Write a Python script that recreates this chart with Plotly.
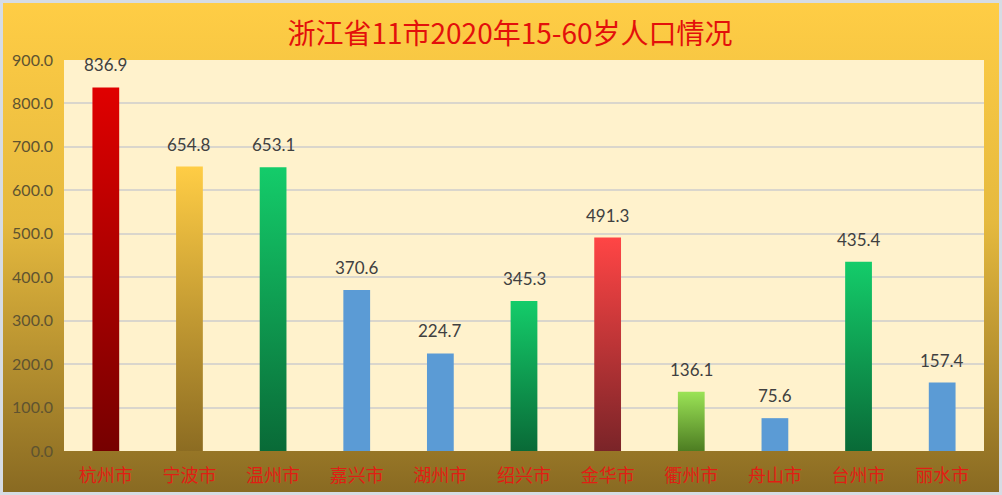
"""浙江省11市2020年15-60岁人口情况 — gradient column chart."""

import base64

import plotly.graph_objects as go

cities = ["杭州市", "宁波市", "温州市", "嘉兴市", "湖州市", "绍兴市",
          "金华市", "衢州市", "舟山市", "台州市", "丽水市"]
population = [836.9, 654.8, 653.1, 370.6, 224.7, 345.3,
              491.3, 136.1, 75.6, 435.4, 157.4]
y_ticks = [0, 100, 200, 300, 400, 500, 600, 700, 800, 900]

# bar gradient ends (top colour, bottom colour)
BLUE = "#5B9BD5"
top_colors = ["#E00000", "#FFCD45", "#14CC6A", BLUE, BLUE, "#14CC6A",
              "#FF4545", "#9BE356", BLUE, "#14CC6A", BLUE]
bottom_colors = ["#760000", "#8C6C22", "#096A37", BLUE, BLUE, "#096A37",
                 "#7A2428", "#4D7D22", BLUE, "#096A37", BLUE]

W, H = 1002, 495
M = dict(l=64, r=18, t=60, b=44)
HALF = 0.16  # half bar width, in category units

# page background: yellow -> olive-brown gradient with a thin light frame
svg = f"""<svg xmlns="http://www.w3.org/2000/svg" width="{W}" height="{H}">
<defs><linearGradient id="g" x1="0" y1="0" x2="0" y2="1">
<stop offset="0" stop-color="#FFCD45"/>
<stop offset="0.45" stop-color="#E5B93E"/>
<stop offset="1" stop-color="#896A22"/>
</linearGradient></defs>
<rect width="{W}" height="{H}" fill="#D6DCE4"/>
<rect x="3" y="3" width="{W - 6}" height="{H - 6}" fill="url(#g)"/>
</svg>"""
bg_src = "data:image/svg+xml;base64," + base64.b64encode(svg.encode()).decode()

pw = W - M["l"] - M["r"]
ph = H - M["t"] - M["b"]

fig = go.Figure()
for i, (name, v) in enumerate(zip(cities, population)):
    fig.add_trace(go.Scatter(
        x=[i - HALF, i - HALF, i + HALF, i + HALF, i - HALF],
        y=[0, v, v, 0, 0],
        fill="toself", mode="lines", line=dict(width=0),
        fillgradient=dict(type="vertical",
                          colorscale=[[0, bottom_colors[i]], [1, top_colors[i]]]),
        name=name, hoverinfo="skip", showlegend=False,
    ))

for i, v in enumerate(population):
    fig.add_annotation(x=i, y=v, text=f"{v:.1f}", showarrow=False,
                       yanchor="bottom", yshift=10,
                       font=dict(family="Lato", size=17, color="#404040"))

fig.add_layout_image(dict(
    source=bg_src, xref="paper", yref="paper",
    x=-M["l"] / pw, y=1 + M["t"] / ph, sizex=W / pw, sizey=H / ph,
    xanchor="left", yanchor="top", sizing="stretch", layer="below",
))
# cream plot area on top of the background image
fig.add_shape(type="rect", xref="paper", yref="paper", x0=0, x1=1, y0=0, y1=1,
              fillcolor="#FFF2CC", line_width=0, layer="below")

fig.update_layout(
    width=W, height=H, margin=M,
    paper_bgcolor="#C9A43A", plot_bgcolor="#FFF2CC",
    title=dict(text="浙江省11市2020年15-60岁人口情况", x=0.509, xanchor="center",
               y=1 - 34 / H, yanchor="middle",
               font=dict(family="Noto Sans CJK SC", size=28, color="#E3100B")),
    xaxis=dict(range=[-0.5, 10.5], tickvals=list(range(len(cities))),
               ticktext=cities, showgrid=False, zeroline=False, ticks="",
               ticklabelstandoff=12, automargin=False,
               tickfont=dict(family="Noto Sans CJK SC", size=18, color="#E01E14")),
    yaxis=dict(range=[0, 900], tickvals=y_ticks, tickformat=".1f",
               showgrid=True, gridcolor="#DAD6CC", gridwidth=1.5, zeroline=False,
               ticks="", ticklabelstandoff=10, automargin=False,
               tickfont=dict(family="Lato", size=16, color="#5E5330")),
)

fig.write_html("out.html", config={"displayModeBar": False},
               post_script="document.body.style.margin='0';")
